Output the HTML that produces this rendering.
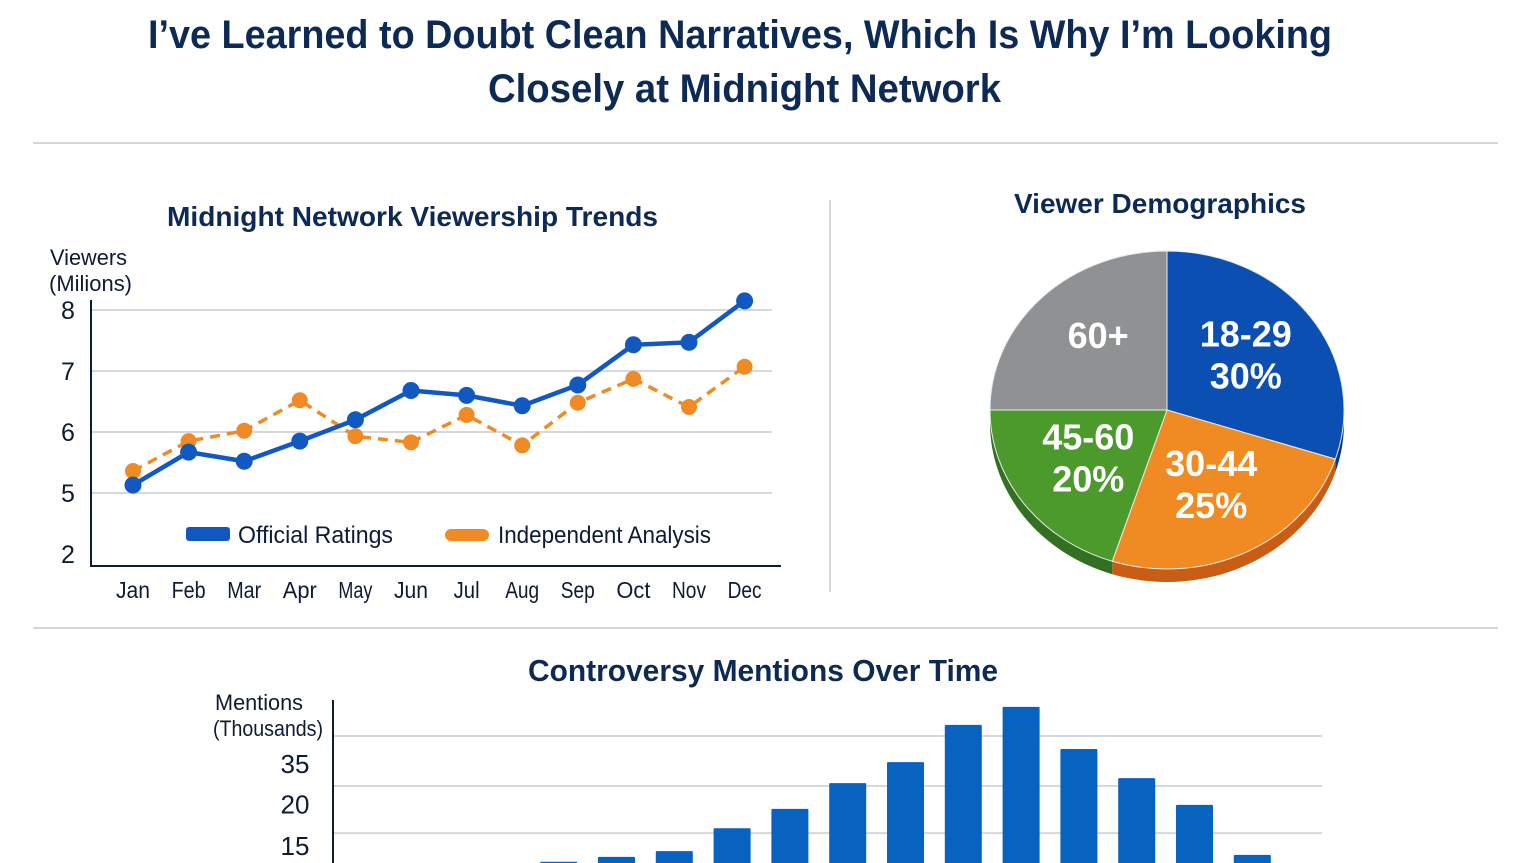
<!DOCTYPE html>
<html><head><meta charset="utf-8">
<style>
html,body{margin:0;padding:0;background:#fff;}
body{width:1536px;height:863px;overflow:hidden;position:relative;font-family:"Liberation Sans Narrow","Liberation Sans",sans-serif;}
svg{position:absolute;left:0;top:0;}
text{font-family:"Liberation Sans Narrow","Liberation Sans",sans-serif;}
</style></head>
<body>
<svg id="s" width="1536" height="863">
<text x="148" y="48" textLength="1184" lengthAdjust="spacingAndGlyphs" font-size="40" font-weight="bold" fill="#0d2a55">I’ve Learned to Doubt Clean Narratives, Which Is Why I’m Looking</text>
<text x="488" y="102" textLength="513" lengthAdjust="spacingAndGlyphs" font-size="40" font-weight="bold" fill="#0d2a55">Closely at Midnight Network</text>
<line x1="33" y1="143" x2="1498" y2="143" stroke="#d3d6da" stroke-width="2"/>
<line x1="33" y1="628" x2="1498" y2="628" stroke="#d3d6da" stroke-width="2"/>
<line x1="830" y1="200" x2="830" y2="592" stroke="#d3d6da" stroke-width="2"/>
<text x="167" y="226" textLength="491" lengthAdjust="spacingAndGlyphs" font-size="28" font-weight="bold" fill="#0d2a55">Midnight Network Viewership Trends</text>
<text x="1014" y="213" textLength="292" lengthAdjust="spacingAndGlyphs" font-size="28" font-weight="bold" fill="#0d2a55">Viewer Demographics</text>
<text x="528" y="681" textLength="470" lengthAdjust="spacingAndGlyphs" font-size="31" font-weight="bold" fill="#0d2a55">Controversy Mentions Over Time</text>
<g id="line"></g>
<g id="pie"></g>
<g id="bar"></g>
</svg>
<script>
const months=["Jan","Feb","Mar","Apr","May","Jun","Jul","Aug","Sep","Oct","Nov","Dec"];
const official=[5.13,5.67,5.52,5.85,6.2,6.68,6.6,6.43,6.77,7.43,7.47,8.15];
const independent=[5.36,5.85,6.02,6.52,5.93,5.83,6.28,5.78,6.48,6.87,6.41,7.07];
const lineTicks=[8,7,6,5,4];
const lineTickLabels=["8","7","6","5","2"];
const pieLabels=["18-29","30-44","45-60","60+"];
const pieValues=[30,25,20,25];
const piePct=["30%","25%","20%",""];
const barCats=["1","2","3","4","5","6","7","8","9","10","11","12","13","14","15","16"];
const barValues=[6,7,8,10.9,12.1,13.5,19.1,23.8,30.1,35.2,44.3,48.7,38.4,31.3,24.8,12.6];
const barTicks=[35,20,15];
const barGrid=[41.6,29.4,17.9];
const NS="http://www.w3.org/2000/svg";
function mk(p,t,a){const e=document.createElementNS(NS,t);for(const k in a)e.setAttribute(k,a[k]);p.appendChild(e);return e;}
// line chart
const L=document.getElementById('line');
const lx=i=>133+i*55.6, ly=v=>310+(8-v)*61;
lineTicks.forEach((t,i)=>{
 if(i<4){const g=mk(L,'line',{x1:91,x2:772,y1:ly(t),y2:ly(t),stroke:'#d5d8dc','stroke-width':2});
 
 }
 const tx=mk(L,'text',{x:68,y:ly(t)+9,'text-anchor':'middle','font-size':25,fill:'#0d1b33'});tx.textContent=lineTickLabels[i];
 
 
});
let a=mk(L,'path',{d:'M91 300 V566 H781',fill:'none',stroke:'#0d1b33','stroke-width':2});


let yt=mk(L,'text',{x:50,y:265,'font-size':22,fill:'#0d1b33',textLength:77,lengthAdjust:'spacingAndGlyphs'});yt.textContent='Viewers';


let yt2=mk(L,'text',{x:49,y:291,'font-size':22,fill:'#0d1b33',textLength:83,lengthAdjust:'spacingAndGlyphs'});yt2.textContent='(Milions)';


months.forEach((m,i)=>{const t=mk(L,'text',{x:lx(i),y:598,'text-anchor':'middle','font-size':23,fill:'#0d1b33',textLength:m==='Jul'?26:34,lengthAdjust:'spacingAndGlyphs'});t.textContent=m;
 
 });
function series(vals,col,dash,r,w,name){
 const p=mk(L,'polyline',{points:vals.map((v,i)=>lx(i)+','+ly(v)).join(' '),fill:'none',stroke:col,'stroke-width':w,'stroke-dasharray':dash});
 
 
 vals.forEach((v,i)=>{const c=mk(L,'circle',{cx:lx(i),cy:ly(v),r:r,fill:col});
  
  });
}
series(independent,'#ef8a24','10 7',8,3.5,'independent');
series(official,'#1158c0','none',8.5,4.5,'official');
let lg1=mk(L,'rect',{x:186,y:527,width:44,height:14,rx:3,fill:'#1158c0'});


let lt1=mk(L,'text',{x:238,y:543,'font-size':24,fill:'#0d1b33',textLength:155,lengthAdjust:'spacingAndGlyphs'});lt1.textContent='Official Ratings';


let lg2=mk(L,'rect',{x:445,y:529,width:44,height:12,rx:6,fill:'#ef8a24'});


let lt2=mk(L,'text',{x:498,y:543,'font-size':24,fill:'#0d1b33',textLength:213,lengthAdjust:'spacingAndGlyphs'});lt2.textContent='Independent Analysis';


// pie
const P=document.getElementById('pie');
const cx=1167,cy=410,rx=177,ry=159,dep=13;
const cols=['#0b4fb3','#f08a22','#4c9a2c','#8f9193'];
const dark=['#083a85','#c95d14','#347022','#6d6f71'];
const tot=pieValues.reduce((s,v)=>s+v,0);
const pt=(ang,dy)=>[cx+rx*Math.sin(ang),cy+dy-ry*Math.cos(ang)];
let acc=0;const angs=pieValues.map(v=>{const s=acc;acc+=v/tot*2*Math.PI;return [s,acc];});
angs.forEach(([s,e],i)=>{
 const s2=Math.max(s,Math.PI/2),e2=Math.min(e,3*Math.PI/2);
 if(e2<=s2)return;
 const A=pt(s2,0),B=pt(e2,0),C=pt(e2,dep),D=pt(s2,dep);
 const p=mk(P,'path',{d:`M${A} A${rx} ${ry} 0 0 1 ${B} L${C} A${rx} ${ry} 0 0 0 ${D} Z`,fill:dark[i]});
 
 
});
angs.forEach(([s,e],i)=>{
 const A=pt(s,0),B=pt(e,0);
 const p=mk(P,'path',{d:`M${cx} ${cy} L${A} A${rx} ${ry} 0 ${e-s>Math.PI?1:0} 1 ${B} Z`,fill:cols[i],stroke:'#e8ecef','stroke-width':1});
 
 
 const m=(s+e)/2;const q=[cx+rx*0.55*Math.sin(m),cy-ry*0.55*Math.cos(m)];
 const t=mk(P,'text',{x:q[0],y:q[1]+(piePct[i]?-12:0),'text-anchor':'middle','font-size':36,'font-weight':'bold',fill:'#fff'});
 t.textContent=pieLabels[i];
 
 
 if(piePct[i]){const t2=mk(P,'text',{x:q[0],y:q[1]+30,'text-anchor':'middle','font-size':36,'font-weight':'bold',fill:'#fff'});
  t2.textContent=piePct[i];
  
  }
});
// bars
const B=document.getElementById('bar');
const by=v=>845-(v-15)*4.1, bx=i=>366.8+i*57.8;
barGrid.forEach(g=>{const l=mk(B,'line',{x1:333,x2:1322,y1:by(g),y2:by(g),stroke:'#d5d8dc','stroke-width':2});
 
 });
barTicks.forEach((t,i)=>{const tx=mk(B,'text',{x:295,y:by(t)+(i==1?-21:0)+10,'text-anchor':'middle','font-size':26,fill:'#0d1b33'});tx.textContent=t;
 
 });
let ba=mk(B,'line',{x1:333,x2:333,y1:700,y2:863,stroke:'#0d1b33','stroke-width':2});


let bt=mk(B,'text',{x:215,y:710,'font-size':22,fill:'#0d1b33',textLength:88,lengthAdjust:'spacingAndGlyphs'});bt.textContent='Mentions';


let bt2=mk(B,'text',{x:213,y:736,'font-size':22,fill:'#0d1b33',textLength:110,lengthAdjust:'spacingAndGlyphs'});bt2.textContent='(Thousands)';


barValues.forEach((v,i)=>{const y=by(v);const r=mk(B,'rect',{x:bx(i),y:y,width:37,height:Math.max(0,900-y),fill:'#0862c0',rx:1});
 
 });
</script>
</body></html>
